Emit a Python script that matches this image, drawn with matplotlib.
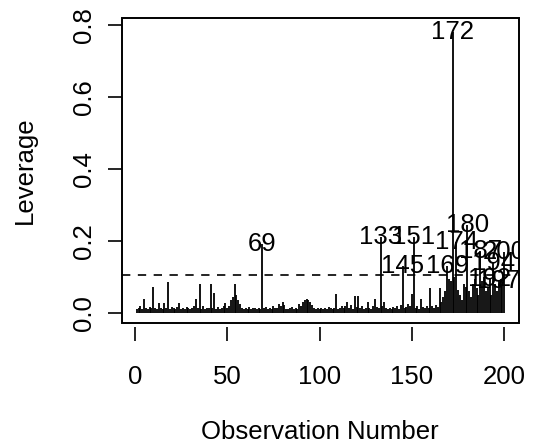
import matplotlib
matplotlib.use("Agg")
from matplotlib import pyplot as plt
from matplotlib.patches import Rectangle

plt.rcParams['font.family'] = ['Liberation Sans', 'DejaVu Sans']

# leverage (hat values) per observation
leverage = [
    0.012, 0.015, 0.018, 0.010, 0.040, 0.014, 0.011, 0.016, 0.013, 0.072,
    0.014, 0.012, 0.028, 0.013, 0.011, 0.028, 0.015, 0.086, 0.012, 0.016,
    0.013, 0.011, 0.017, 0.028, 0.012, 0.014, 0.010, 0.016, 0.013, 0.012,
    0.015, 0.020, 0.040, 0.014, 0.080, 0.012, 0.018, 0.011, 0.015, 0.013,
    0.080, 0.014, 0.056, 0.012, 0.016, 0.011, 0.013, 0.020, 0.028, 0.014,
    0.018, 0.035, 0.045, 0.080, 0.050, 0.035, 0.025, 0.013, 0.011, 0.014,
    0.012, 0.016, 0.010, 0.013, 0.015, 0.011, 0.014, 0.012, 0.190, 0.013,
    0.016, 0.012, 0.014, 0.011, 0.018, 0.013, 0.015, 0.025, 0.020, 0.030,
    0.022, 0.012, 0.010, 0.014, 0.016, 0.012, 0.013, 0.011, 0.025, 0.018,
    0.030, 0.035, 0.040, 0.036, 0.030, 0.022, 0.014, 0.011, 0.013, 0.012,
    0.014, 0.011, 0.015, 0.012, 0.016, 0.013, 0.010, 0.014, 0.053, 0.012,
    0.015, 0.018, 0.013, 0.020, 0.030, 0.014, 0.022, 0.012, 0.047, 0.016,
    0.047, 0.013, 0.018, 0.011, 0.015, 0.030, 0.014, 0.012, 0.020, 0.040,
    0.016, 0.013, 0.210, 0.018, 0.030, 0.014, 0.012, 0.015, 0.011, 0.016,
    0.013, 0.018, 0.012, 0.022, 0.130, 0.014, 0.016, 0.025, 0.020, 0.053,
    0.210, 0.014, 0.018, 0.012, 0.040, 0.016, 0.013, 0.020, 0.015, 0.070,
    0.018, 0.014, 0.022, 0.016, 0.070, 0.030, 0.045, 0.060, 0.130, 0.095,
    0.090, 0.780, 0.100, 0.196, 0.064, 0.050, 0.036, 0.080, 0.072, 0.243,
    0.060, 0.045, 0.080, 0.095, 0.070, 0.050, 0.172, 0.090, 0.100, 0.060,
    0.070, 0.093, 0.050, 0.140, 0.080, 0.060, 0.088, 0.095, 0.075, 0.170,
]
obs = list(range(1, len(leverage) + 1))
label_obs = [69, 133, 145, 151, 169, 172, 174, 180, 187, 192, 194, 197, 200]
cutoff = 0.104

x_ticks = [0, 50, 100, 150, 200]
y_ticks = [0.0, 0.2, 0.4, 0.6, 0.8]

fig = plt.figure(figsize=(5.36, 4.48), dpi=100)
ax = fig.add_axes([122/536, 1 - 323/448, 397/536, 305/448])

ax.vlines(obs, 0, leverage, color='black', lw=1.3)
ax.axhline(cutoff, color='black', lw=1.2, linestyle=(0, (5.0, 4.5)))

for i in label_obs:
    ax.text(i, leverage[i - 1], str(i), ha='center', va='center',
            fontsize=18.5, clip_on=True)

ax.set_xlim(-6.96, 207.96)
ax.set_ylim(-0.028, 0.819)
ax.set_xticks(x_ticks)
ax.set_xticklabels([str(t) for t in x_ticks])
ax.set_yticks(y_ticks)
ax.set_yticklabels(['%.1f' % t for t in y_ticks])

# R style: box around the plot, x axis ticks hanging a bit below it
for s in ax.spines.values():
    s.set_visible(False)
ax.spines['bottom'].set_position(('outward', 3))
ax.add_patch(Rectangle((0, 0), 1, 1, transform=ax.transAxes, fill=False,
                       lw=1.4, edgecolor='black', clip_on=False))

ax.tick_params(axis='x', length=10, width=1.2, pad=17, labelsize=18.5)
ax.tick_params(axis='y', length=10, width=1.2, pad=9, labelsize=18.5)
for t in ax.get_yticklabels():
    t.set_rotation(90)
    t.set_va('center')

fig.text(25/536, 1 - 170/448, 'Leverage', rotation=90,
         ha='center', va='center', fontsize=18.5)
fig.text(320/536, 1 - 432/448, 'Observation Number',
         ha='center', va='center', fontsize=18.5)

fig.savefig('out.png', dpi=100)
